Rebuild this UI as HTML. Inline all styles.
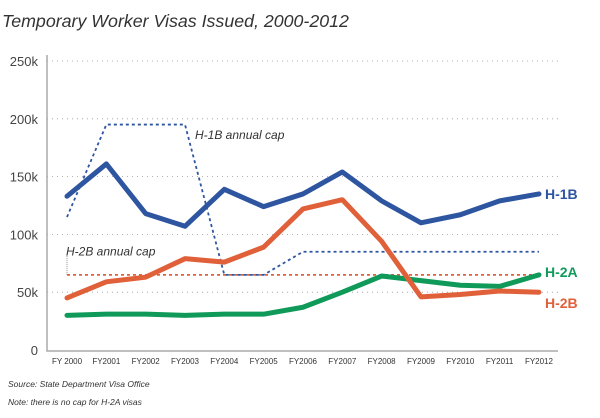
<!DOCTYPE html>
<html><head><meta charset="utf-8"><style>
body{margin:0;background:#fff;}
svg{display:block;font-family:"Liberation Sans",sans-serif;}
</style></head><body>
<svg id="c" width="600" height="418">
<text x="2" y="27" font-size="17.8" font-style="italic" fill="#333">Temporary Worker Visas Issued, 2000-2012</text>
<text x="8" y="387" font-size="8.5" font-style="italic" fill="#333">Source: State Department Visa Office</text>
<text x="8" y="405" font-size="8.5" font-style="italic" fill="#333">Note: there is no cap for H-2A visas</text>
<g id="g"></g>
</svg>
<script>
const years=["FY 2000","FY2001","FY2002","FY2003","FY2004","FY2005","FY2006","FY2007","FY2008","FY2009","FY2010","FY2011","FY2012"];
const yTicks=[0,50,100,150,200,250];
const yTickLabels=["0","50k","100k","150k","200k","250k"];
const h1b=[133,161,118,107,139,124,135,154,129,110,117,129,135];
const h2b=[45,59,63,79,76,89,122,130,94,46,48,51,50];
const h2a=[30,31,31,30,31,31,37,50,64,60,56,55,65];
const h1bCap=[115,195,195,195,65,65,85,85,85,85,85,85,85];
const h2bCap=[65,65,65,65,65,65,65,65,65,65,65,65,65];
const NS="http://www.w3.org/2000/svg",g=document.getElementById('g');
const X=i=>67+i*39.33, Y=v=>350-v*1.156;
function el(t,a){const e=document.createElementNS(NS,t);for(const k in a)e.setAttribute(k,a[k]);g.appendChild(e);return e;}
yTicks.forEach((v,i)=>{
 if(v>0){const l=el('line',{x1:47,x2:558,y1:Y(v),y2:Y(v),stroke:'#999','stroke-width':0.8,'stroke-dasharray':'1 4'});
 
 }
 const t=el('text',{x:38,y:Y(v)+5,'font-size':13,fill:'#444','text-anchor':'end'});t.textContent=yTickLabels[i];
 
 
});
const ax=el('path',{d:'M47 55V351H558',fill:'none',stroke:'#aaa','stroke-width':1.5});


years.forEach((y,i)=>{const t=el('text',{x:X(i),y:364,'font-size':8,fill:'#333','text-anchor':'middle'});t.textContent=y;
 
 });
const pts=a=>a.map((v,i)=>X(i)+','+Y(v)).join(' ');
const v1=el('line',{x1:67,x2:67,y1:Y(65),y2:Y(82),stroke:'#777','stroke-width':0.8,'stroke-dasharray':'1 1'});


const c2=el('polyline',{points:pts(h2bCap),fill:'none',stroke:'#e0603a','stroke-width':1.8,'stroke-dasharray':'3 3'});


const c1=el('polyline',{points:pts(h1bCap),fill:'none',stroke:'#2e55a0','stroke-width':1.8,'stroke-dasharray':'3 3'});


[[h2a,'#0f9a5a','h2a-line'],[h2b,'#e0603a','h2b-line'],[h1b,'#2e55a0','h1b-line']].forEach(s=>{
 const p=el('polyline',{points:pts(s[0]),fill:'none',stroke:s[1],'stroke-width':5,'stroke-linejoin':'round','stroke-linecap':'round'});
 
 
});
const labs=[['H-1B',h1b,'#2e55a0',0],['H-2A',h2a,'#0f9a5a',-3],['H-2B',h2b,'#e0603a',11]];
labs.forEach(l=>{const t=el('text',{x:545,y:Y(l[1][12])+5+l[3],'font-size':14,'font-weight':'bold',fill:l[2]});t.textContent=l[0];
 
 });
const a1=el('text',{x:195,y:Y(187)+5,'font-size':12,'font-style':'italic',fill:'#333'});a1.textContent='H-1B annual cap';


const a2=el('text',{x:66,y:Y(85)+4,'font-size':12,'font-style':'italic',fill:'#333'});a2.textContent='H-2B annual cap';


</script>
</body></html>
